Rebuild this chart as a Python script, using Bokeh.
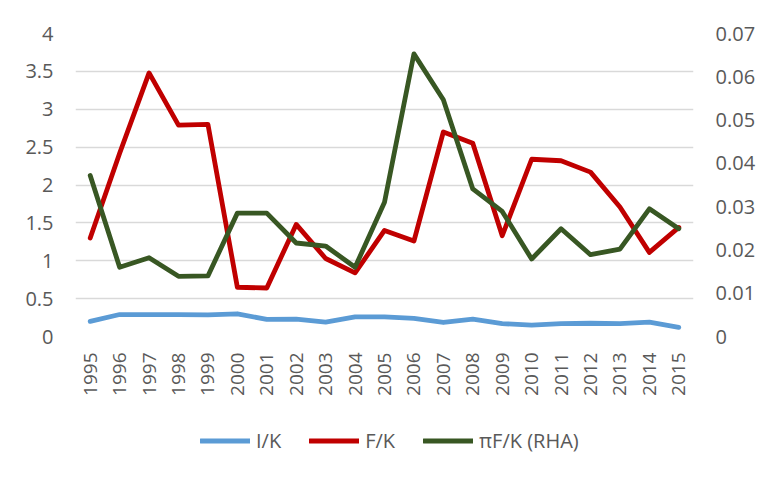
from bokeh.plotting import figure
from bokeh.models import (Range1d, LinearAxis, FixedTicker, NumeralTickFormatter,
                          Legend, LegendItem, FactorRange)
from bokeh.layouts import column
from bokeh.embed import file_html
from bokeh.resources import INLINE
import math

years = [str(y) for y in range(1995, 2016)]
i_k = [0.20, 0.29, 0.29, 0.29, 0.285, 0.30, 0.225, 0.23, 0.19, 0.26, 0.26,
       0.24, 0.185, 0.23, 0.17, 0.15, 0.17, 0.175, 0.17, 0.19, 0.12]
f_k = [1.30, 2.42, 3.48, 2.79, 2.80, 0.65, 0.64, 1.48, 1.03, 0.84, 1.40,
       1.26, 2.70, 2.55, 1.33, 2.34, 2.32, 2.17, 1.71, 1.11, 1.44]
pif_k = [0.0372, 0.0160, 0.0182, 0.0139, 0.0140, 0.0285, 0.0285, 0.0216, 0.0209, 0.0160, 0.0310,
         0.0653, 0.0547, 0.0341, 0.0289, 0.0179, 0.0249, 0.0189, 0.0202, 0.0295, 0.0249]
left_ticks = [0, 0.5, 1, 1.5, 2, 2.5, 3, 3.5, 4]
right_ticks = [0, 0.01, 0.02, 0.03, 0.04, 0.05, 0.06, 0.07]
series_names = ["I/K", "F/K", "\u03c0F/K (RHA)"]
series_colors = ["#5b9bd5", "#c00000", "#385723"]

FONT = "Open Sans"
GRAY = "#595959"
GRID = "#d9d9d9"
LW = 4.8

p = figure(width=768, height=415, x_range=FactorRange(*years), y_range=Range1d(0, 4),
           output_backend="svg", toolbar_location=None,
           min_border_left=75, min_border_right=75, min_border_top=33, min_border_bottom=79)
p.outline_line_color = None
p.extra_y_ranges = {"rha": Range1d(0, 0.07)}

p.xgrid.grid_line_color = None
p.ygrid.grid_line_color = GRID
p.ygrid.grid_line_width = 1.3
p.ygrid.ticker = FixedTicker(ticks=left_ticks)

# left axis
ya = p.yaxis[0]
ya.ticker = FixedTicker(ticks=left_ticks)
ya.formatter = NumeralTickFormatter(format="0.[0]")
ya.axis_line_color = None
ya.major_tick_line_color = None
ya.minor_tick_line_color = None
ya.major_tick_out = 0
ya.major_tick_in = 0
ya.major_label_standoff = 22
ya.major_label_text_font = FONT
ya.major_label_text_font_size = "20px"
ya.major_label_text_color = GRAY

# right axis
ra = LinearAxis(y_range_name="rha", ticker=FixedTicker(ticks=right_ticks),
                formatter=NumeralTickFormatter(format="0.[00]"))
ra.axis_line_color = None
ra.major_tick_line_color = None
ra.minor_tick_line_color = None
ra.major_tick_out = 0
ra.major_tick_in = 0
ra.major_label_standoff = 22
ra.major_label_text_font = FONT
ra.major_label_text_font_size = "20px"
ra.major_label_text_color = GRAY
p.add_layout(ra, "right")

# x axis
xa = p.xaxis[0]
xa.axis_line_color = None
xa.major_tick_line_color = None
xa.major_tick_out = 0
xa.major_tick_in = 0
xa.major_label_standoff = 16
xa.major_label_orientation = math.pi / 2
xa.major_label_text_font = FONT
xa.major_label_text_font_size = "19px"
xa.major_label_text_color = GRAY

p.line(years, i_k, line_color=series_colors[0], line_width=LW, line_join="round", line_cap="round")
p.line(years, f_k, line_color=series_colors[1], line_width=LW, line_join="round", line_cap="round")
p.line(years, pif_k, line_color=series_colors[2], line_width=LW, line_join="round", line_cap="round",
       y_range_name="rha")

# legend strip below the chart (its frame is aligned with the chart frame by the column)
lf = figure(width=768, height=63, x_range=Range1d(0, 1), y_range=Range1d(0, 1),
            output_backend="svg", toolbar_location=None, x_axis_type=None, y_axis_type=None,
            min_border=0, min_border_left=0, min_border_right=0, min_border_top=0, min_border_bottom=0)
lf.outline_line_color = None
lf.xgrid.visible = False
lf.ygrid.visible = False
items = []
for name, col in zip(series_names, series_colors):
    rr = lf.line(x=[float("nan")], y=[float("nan")], line_color=col, line_width=LW, line_cap="round")
    items.append(LegendItem(label=name, renderers=[rr]))
legend = Legend(items=items, orientation="horizontal", location=(125, 24),
                glyph_width=50, glyph_height=27, label_standoff=6, spacing=28,
                padding=0, margin=0, border_line_color=None, background_fill_alpha=0,
                label_text_font=FONT, label_text_font_size="20px", label_text_color=GRAY)
lf.add_layout(legend, "center")

layout = column(p, lf, spacing=0)
open("out.html", "w").write(file_html(layout, INLINE))
